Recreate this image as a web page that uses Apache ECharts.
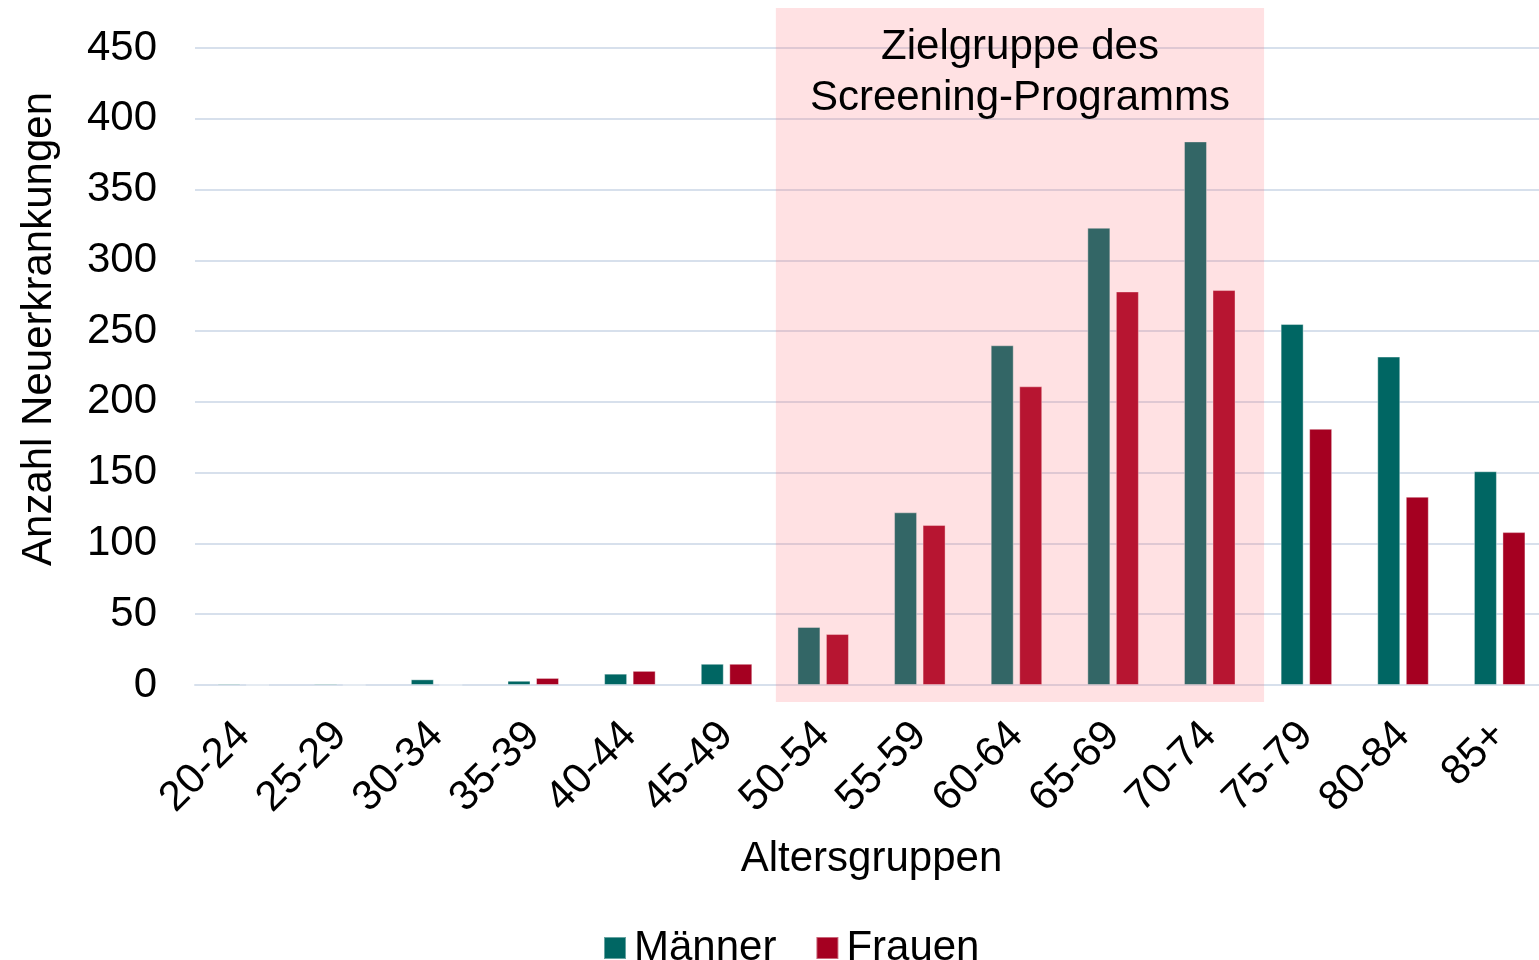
<!DOCTYPE html>
<html>
<head>
<meta charset="UTF-8">
<title>Neuerkrankungen</title>
<script src="https://cdn.jsdelivr.net/npm/echarts@6/dist/echarts.min.js"></script>
<style>
    body { margin: 0; padding: 0; background: #fff; }
    #main { width: 1539px; height: 960px; }
</style>
</head>
<body>
<div id="main"></div>
<script>
    const altersgruppen = ['20-24', '25-29', '30-34', '35-39', '40-44', '45-49', '50-54', '55-59', '60-64', '65-69', '70-74', '75-79', '80-84', '85+'];
    const maenner = [1, 1, 4, 3, 8, 15, 41, 122, 240, 323, 384, 255, 232, 151];
    const frauen = [0, 0, 0, 5, 10, 15, 36, 113, 211, 278, 279, 181, 133, 108];
    const zielVon = '50-54';
    const zielBis = '70-74';

    const font = 'Liberation Sans, Arial, sans-serif';
    const chart = echarts.init(document.getElementById('main'));

    chart.setOption({
        animation: false,
        textStyle: { fontFamily: font },
        grid: { left: 195, width: 1353, top: 48, height: 637, outerBoundsMode: 'none', containLabel: false },
        legend: {
            data: ['Männer', 'Frauen'],
            left: 598, top: 922,
            icon: 'rect', itemWidth: 22, itemHeight: 22, itemGap: 39,
            textStyle: { fontSize: 42, color: '#000', fontFamily: font, padding: [0, 0, 0, 3] }
        },
        xAxis: {
            type: 'category',
            data: altersgruppen,
            name: 'Altersgruppen',
            nameLocation: 'middle',
            nameGap: 153,
            nameTextStyle: { fontSize: 42, color: '#000' },
            axisLine: { lineStyle: { color: '#d7e0ec', width: 2 } },
            axisTick: { show: false },
            axisLabel: { rotate: 45, fontSize: 42, color: '#000', margin: 44, interval: 0 }
        },
        yAxis: {
            type: 'value',
            min: 0, max: 450, interval: 50,
            name: 'Anzahl Neuerkrankungen',
            nameLocation: 'middle',
            nameGap: 135,
            nameTextStyle: { fontSize: 42, color: '#000', padding: [0, 0, 0, 75] },
            axisLabel: { fontSize: 42, color: '#000', margin: 38 },
            splitLine: { lineStyle: { color: '#d7e0ec', width: 2 } }
        },
        series: [
            {
                name: 'Männer', type: 'bar', data: maenner,
                barWidth: 23, barGap: '24%',
                itemStyle: { color: '#006663', borderColor: 'rgba(255,255,255,0.4)', borderWidth: 1 }
            },
            {
                name: 'Frauen', type: 'bar', data: frauen,
                barWidth: 23,
                itemStyle: { color: '#a50021', borderColor: 'rgba(255,255,255,0.4)', borderWidth: 1 }
            }
        ]
    });

    // Zielgruppen-Bereich aus den Achsen berechnen
    const c0 = chart.convertToPixel({ xAxisIndex: 0 }, zielVon);
    const c1 = chart.convertToPixel({ xAxisIndex: 0 }, zielBis);
    const band = chart.convertToPixel({ xAxisIndex: 0 }, altersgruppen[1]) - chart.convertToPixel({ xAxisIndex: 0 }, altersgruppen[0]);
    const y0 = chart.convertToPixel({ yAxisIndex: 0 }, 0);
    const x0 = c0 - band / 2 + 1;
    const x1 = c1 + band / 2 + 6;

    chart.setOption({
        graphic: [
            {
                type: 'rect', z: 100,
                shape: { x: x0, y: 8, width: x1 - x0, height: y0 + 17 - 8 },
                style: { fill: 'rgba(255,105,115,0.2)' },
                silent: true
            },
            {
                type: 'text', z: 101,
                x: (x0 + x1) / 2, y: 22,
                style: {
                    text: 'Zielgruppe des\nScreening-Programms',
                    fontSize: 42, fontFamily: font, fill: '#000',
                    align: 'center', verticalAlign: 'top', lineHeight: 51
                },
                silent: true
            }
        ]
    });
</script>
</body>
</html>
